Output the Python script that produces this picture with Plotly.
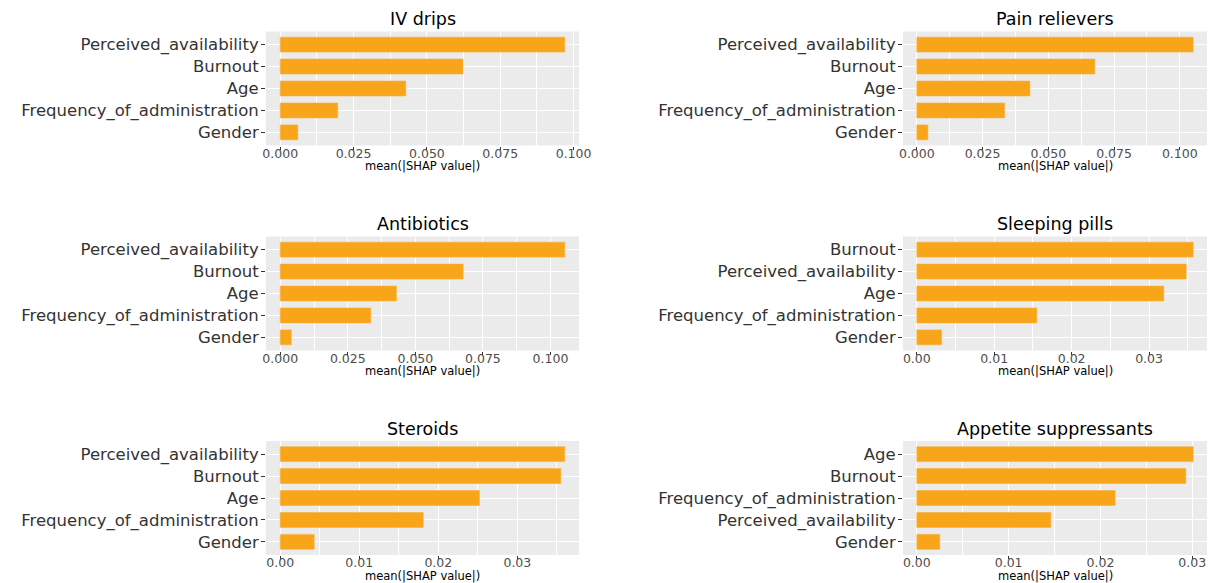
import plotly.graph_objects as go

W, H = 1223, 583

titles = ["IV drips", "Pain relievers", "Antibiotics", "Sleeping pills",
          "Steroids", "Appetite suppressants"]

cats_iv = ["Perceived_availability", "Burnout", "Age", "Frequency_of_administration", "Gender"]
vals_iv = [0.0970, 0.0623, 0.0428, 0.0196, 0.0060]

cats_pain = ["Perceived_availability", "Burnout", "Age", "Frequency_of_administration", "Gender"]
vals_pain = [0.1051, 0.0677, 0.0430, 0.0334, 0.0042]

cats_anti = ["Perceived_availability", "Burnout", "Age", "Frequency_of_administration", "Gender"]
vals_anti = [0.1053, 0.0677, 0.0430, 0.0335, 0.0041]

cats_sleep = ["Burnout", "Perceived_availability", "Age", "Frequency_of_administration", "Gender"]
vals_sleep = [0.0357, 0.0348, 0.0319, 0.0155, 0.0032]

cats_ster = ["Perceived_availability", "Burnout", "Age", "Frequency_of_administration", "Gender"]
vals_ster = [0.0360, 0.0355, 0.0252, 0.0181, 0.0043]

cats_app = ["Age", "Burnout", "Frequency_of_administration", "Perceived_availability", "Gender"]
vals_app = [0.0301, 0.0293, 0.0216, 0.0146, 0.0025]

panels = [
    (cats_iv, vals_iv, 0.025, ".3f"),
    (cats_pain, vals_pain, 0.025, ".3f"),
    (cats_anti, vals_anti, 0.025, ".3f"),
    (cats_sleep, vals_sleep, 0.01, ".2f"),
    (cats_ster, vals_ster, 0.01, ".2f"),
    (cats_app, vals_app, 0.01, ".2f"),
]

FONT = "DejaVu Sans"
BAR = "#F9A51A"

# panel pixel boxes
col_x = [(266, 579), (903, 1207)]
row_y = [(31.5, 145.5), (236.5, 350.5), (441, 555)]

fig = go.Figure()
annotations = []

for i, (cats, vals, dt, fmt) in enumerate(panels):
    r, c = divmod(i, 2)
    x0, x1 = col_x[c]
    yt, yb = row_y[r]
    ax = "" if i == 0 else str(i + 1)
    fig.add_trace(go.Bar(
        x=vals, y=cats, orientation="h",
        marker=dict(color=BAR, line=dict(color="#F4B040", width=0.6)),
        width=0.68, xaxis="x" + ax, yaxis="y" + ax, showlegend=False,
        hoverinfo="skip",
    ))
    m = max(vals)
    fig.layout["xaxis" + ax] = dict(
        domain=[x0 / W, x1 / W], anchor="y" + ax, automargin=False,
        range=[-0.05 * m, 1.05 * m], dtick=dt, tick0=0, tickformat=fmt,
        showgrid=True, gridcolor="white", gridwidth=1.4, zeroline=False,
        minor=dict(dtick=dt / 2, tick0=0, showgrid=True, gridcolor="white", gridwidth=0.6),
        ticks="outside", ticklen=3, tickcolor="#333333", tickwidth=1,
        ticklabelstandoff=-7,
        tickfont=dict(family=FONT, size=12.5, color="#4D4D4D"),
        showline=False, fixedrange=True,
    )
    fig.layout["yaxis" + ax] = dict(
        domain=[1 - yb / H, 1 - yt / H], anchor="x" + ax, automargin=False,
        type="category", categoryorder="array", categoryarray=cats,
        range=[4.6, -0.6],
        showgrid=True, gridcolor="white", gridwidth=1.4,
        ticks="outside", ticklen=4, tickcolor="#333333", tickwidth=1,
        ticklabelstandoff=-1,
        tickfont=dict(family=FONT, size=16.5, color="#333333"),
        showline=False, fixedrange=True,
    )
    cx = (x0 + x1) / 2 / W
    annotations.append(dict(
        text=titles[i], x=cx, y=1 - (yt - 12.5) / H, xref="paper", yref="paper",
        xanchor="center", yanchor="middle", showarrow=False,
        font=dict(family=FONT, size=17.5, color="black"),
    ))
    annotations.append(dict(
        text="mean(|SHAP value|)", x=cx, y=1 - (yb + 21) / H, xref="paper", yref="paper",
        xanchor="center", yanchor="middle", showarrow=False,
        font=dict(family=FONT, size=11.5, color="black"),
    ))

fig.update_layout(
    width=W, height=H,
    margin=dict(l=0, r=0, t=0, b=0),
    paper_bgcolor="white", plot_bgcolor="#EBEBEB",
    annotations=annotations, bargap=0.3,
)

fig.write_html("out.html", config={"displayModeBar": False},
               post_script="document.body.style.margin='0';document.body.style.overflow='hidden';")
